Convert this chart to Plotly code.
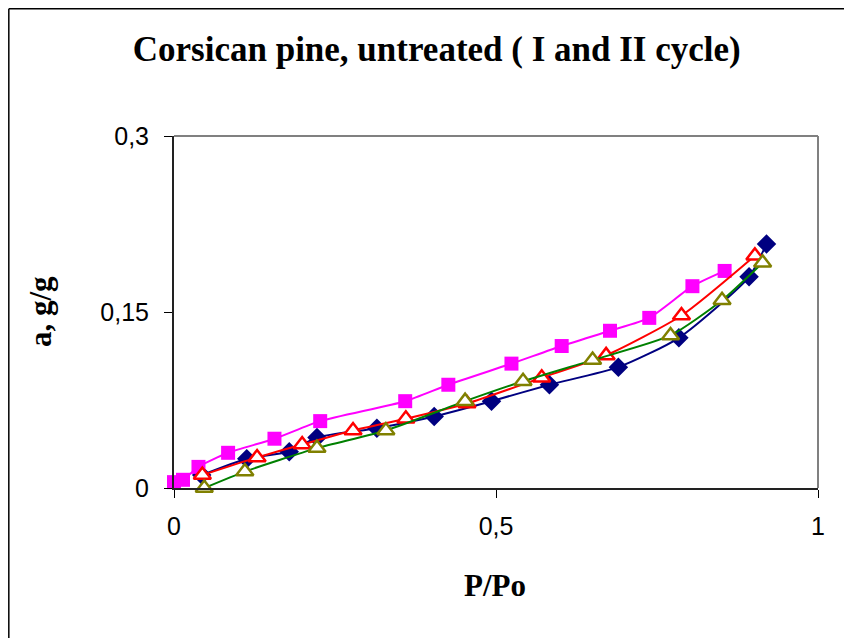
import plotly.graph_objects as go

# Series 1 (navy diamonds)
navy_x = [0.043, 0.113, 0.179, 0.222, 0.315, 0.404, 0.493, 0.583, 0.690, 0.784, 0.893, 0.920]
navy_y = [0.011, 0.025, 0.031, 0.043, 0.051, 0.061, 0.074, 0.088, 0.103, 0.128, 0.180, 0.208]

# Series 2 (magenta squares)
mag_x = [0.000, 0.014, 0.038, 0.084, 0.156, 0.227, 0.359, 0.426, 0.524, 0.602, 0.677, 0.738, 0.805, 0.855]
mag_y = [0.005, 0.007, 0.018, 0.030, 0.042, 0.057, 0.074, 0.088, 0.106, 0.121, 0.134, 0.145, 0.172, 0.185]

# Series 3 (red open triangles)
red_x = [0.044, 0.129, 0.199, 0.278, 0.360, 0.455, 0.571, 0.671, 0.788, 0.902]
red_y = [0.011, 0.026, 0.037, 0.049, 0.059, 0.072, 0.094, 0.113, 0.147, 0.198]

# Series 4 (olive open triangles, green line)
oli_x = [0.047, 0.110, 0.222, 0.329, 0.452, 0.542, 0.650, 0.771, 0.851, 0.914]
oli_y = [0.000, 0.014, 0.034, 0.049, 0.074, 0.091, 0.109, 0.130, 0.160, 0.192]

x_ticks = [0, 0.5, 1]
x_tick_text = ["0", "0,5", "1"]
y_ticks = [0, 0.15, 0.3]
y_tick_text = ["0", "0,15", "0,3"]

fig = go.Figure()

line_shape = dict(shape="spline", smoothing=0.6, width=2)

fig.add_trace(go.Scatter(
    x=navy_x, y=navy_y, mode="lines+markers", cliponaxis=False,
    line=dict(color="#000080", **line_shape),
    marker=dict(symbol="diamond", size=15, color="#000080"),
    name="navy"))
fig.add_trace(go.Scatter(
    x=mag_x, y=mag_y, mode="lines+markers", cliponaxis=False,
    line=dict(color="#FF00FF", **line_shape),
    marker=dict(symbol="square", size=14, color="#FF00FF"),
    name="magenta"))
fig.add_trace(go.Scatter(
    x=red_x, y=red_y, mode="lines+markers", cliponaxis=False,
    line=dict(color="#FF0000", **line_shape),
    marker=dict(symbol="triangle-up", size=15, color="white",
                line=dict(color="#FF0000", width=2.5)),
    name="red"))
fig.add_trace(go.Scatter(
    x=oli_x, y=oli_y, mode="lines+markers", cliponaxis=False,
    line=dict(color="#008000", **line_shape),
    marker=dict(symbol="triangle-up", size=15, color="white",
                line=dict(color="#808000", width=2.5)),
    name="olive"))

fig.update_layout(
    width=844, height=630,
    margin=dict(l=166, r=34, t=128, b=150),
    paper_bgcolor="white", plot_bgcolor="white",
    showlegend=False,
    separators=", ",
    title=dict(text="<b>Corsican pine, untreated ( I and II cycle)</b>",
               x=0.508, xanchor="center", y=0.936, yanchor="middle",
               font=dict(family="Liberation Serif", size=35, color="black")),
    font=dict(family="Liberation Sans", color="black"),
)

fig.update_xaxes(
    range=[0, 1], tickvals=x_ticks, ticktext=x_tick_text,
    showgrid=False, zeroline=False,
    showline=True, linecolor="#222222", linewidth=2,
    ticks="outside", ticklen=8, tickwidth=1, tickcolor="black",
    ticklabelstandoff=7,
    tickfont=dict(family="Liberation Sans", size=25, color="black"),
)
fig.update_yaxes(
    range=[0, 0.3], tickvals=y_ticks, ticktext=y_tick_text,
    showgrid=False, zeroline=False,
    showline=True, linecolor="#222222", linewidth=2,
    ticks="outside", ticklen=8, tickwidth=1, tickcolor="black",
    ticklabelstandoff=10,
    tickfont=dict(family="Liberation Sans", size=25, color="black"),
)

# gray plot-area border on top and right
fig.add_shape(type="line", xref="paper", yref="paper", x0=0, x1=1, y0=1, y1=1,
              line=dict(color="#808080", width=2))
fig.add_shape(type="line", xref="paper", yref="paper", x0=1, x1=1, y0=0, y1=1,
              line=dict(color="#808080", width=2))
# outer chart frame (left and top)
fig.add_shape(type="line", xref="paper", yref="paper", x0=-0.2565, x1=-0.2565, y0=-0.45, y1=1.3615,
              line=dict(color="black", width=1.5))
fig.add_shape(type="line", xref="paper", yref="paper", x0=-0.2565, x1=1.06, y0=1.3615, y1=1.3615,
              line=dict(color="black", width=1.5))

fig.add_annotation(text="<b>P/Po</b>", xref="paper", yref="paper",
                   x=0.498, y=-0.278, xanchor="center", yanchor="middle",
                   showarrow=False,
                   font=dict(family="Liberation Serif", size=31, color="black"))
fig.add_annotation(text="<b>a, g/g</b>", xref="paper", yref="paper",
                   x=-0.208, y=0.5, xanchor="center", yanchor="middle",
                   textangle=-90, showarrow=False,
                   font=dict(family="Liberation Serif", size=31, color="black"))

fig.write_html("out.html")
